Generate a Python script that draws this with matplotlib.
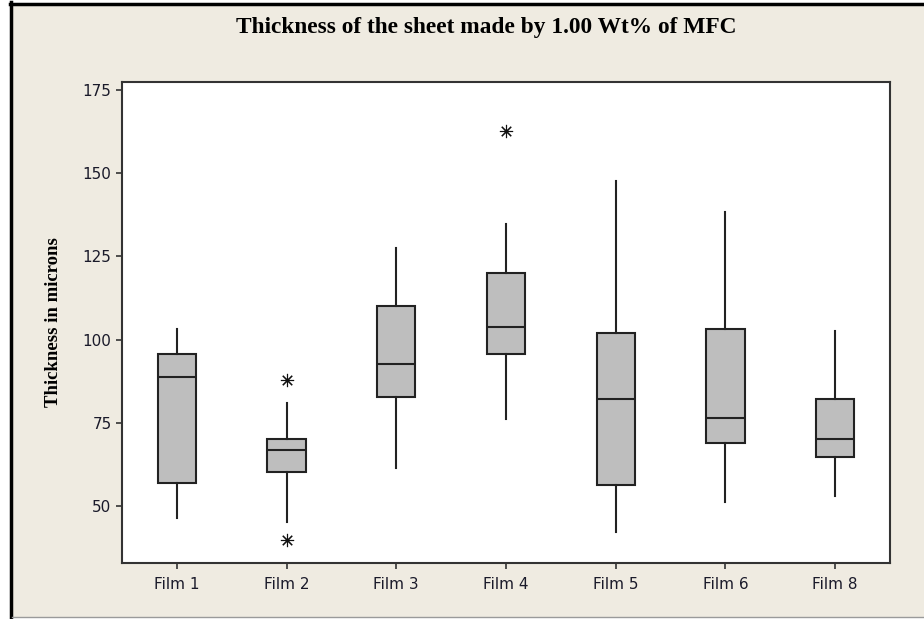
import matplotlib
matplotlib.use("Agg")
import matplotlib.pyplot as plt
from matplotlib.patches import Rectangle
from matplotlib.lines import Line2D

# -----------------------------
# Data
# -----------------------------

films = ["Film 1", "Film 2", "Film 3", "Film 4", "Film 5", "Film 6", "Film 8"]

whisker_low = [46.5, 45.3, 61.3, 76.2, 42.1, 51.2, 53.1]
q1 = [56.8, 60.1, 82.7, 95.6, 56.3, 68.8, 64.8]
median = [88.9, 66.9, 92.8, 103.8, 82.2, 76.4, 70.1]
q3 = [95.6, 70.1, 110.0, 120.1, 101.9, 103.3, 82.1]
whisker_high = [103.3, 81.0, 127.6, 134.6, 147.6, 138.2, 102.6]
outliers = [[], [87.8, 39.8], [], [162.8], [], [], []]

bg = "#EFEBE1"

stats = []
for i, name in enumerate(films):
    stats.append({
        "label": name,
        "whislo": whisker_low[i],
        "q1": q1[i],
        "med": median[i],
        "q3": q3[i],
        "whishi": whisker_high[i],
        "fliers": outliers[i],
    })

# -----------------------------
# Plot
# -----------------------------

fig = plt.figure(figsize=(9.24, 6.19), dpi=100)
fig.patch.set_facecolor("white")

# beige panel with the black frame on left / top
W, H = 924, 619
fig.patches.append(Rectangle((12 / W, 2 / H), 1 - 12 / W, 1 - 7 / H,
                             transform=fig.transFigure, facecolor=bg,
                             edgecolor="none", zorder=-10))
fig.lines.append(Line2D([11 / W, 11 / W], [2 / H, 1 - 2 / H],
                        transform=fig.transFigure, color="black", lw=2.5,
                        zorder=-5))
fig.lines.append(Line2D([10 / W, 1], [1 - 4 / H, 1 - 4 / H],
                        transform=fig.transFigure, color="black", lw=2.5,
                        zorder=-5))
fig.lines.append(Line2D([12 / W, 1], [2 / H, 2 / H],
                        transform=fig.transFigure, color="#9a9a9a", lw=1,
                        zorder=-5))

ax = fig.add_axes([122 / W, 1 - 563 / H, (890 - 122) / W, (563 - 82) / H])
ax.set_facecolor("white")

ax.bxp(
    stats,
    positions=range(1, len(films) + 1),
    widths=0.35,
    patch_artist=True,
    showcaps=False,
    boxprops=dict(facecolor="#BEBEBE", edgecolor="#222222", linewidth=1.5),
    medianprops=dict(color="#222222", linewidth=1.5),
    whiskerprops=dict(color="#222222", linewidth=1.5),
    flierprops=dict(marker=(8, 2, 0), markersize=9.5, markeredgecolor="#111111",
                    markeredgewidth=0.8, linestyle="none"),
)

ax.set_xlim(0.5, 7.5)
ax.set_ylim(32.9, 177.4)
ax.set_yticks([50, 75, 100, 125, 150, 175])
ax.set_xticks(range(1, len(films) + 1))
ax.set_xticklabels(films)

for s in ax.spines.values():
    s.set_color("#333333")
    s.set_linewidth(1.5)

ax.tick_params(axis="both", direction="out", length=4, width=1.2,
               color="#333333", labelsize=11, labelcolor="#1a1a2a")
ax.tick_params(axis="x", pad=6)

ax.set_ylabel("Thickness in microns", family="Liberation Serif",
              fontweight="bold", fontsize=13.5, labelpad=15)

fig.text(486 / W, 1 - 27 / H,
         "Thickness of the sheet made by 1.00 Wt% of MFC",
         family="Liberation Serif", fontweight="bold", fontsize=16.8,
         ha="center", va="center")

plt.savefig("out.png", dpi=100)
